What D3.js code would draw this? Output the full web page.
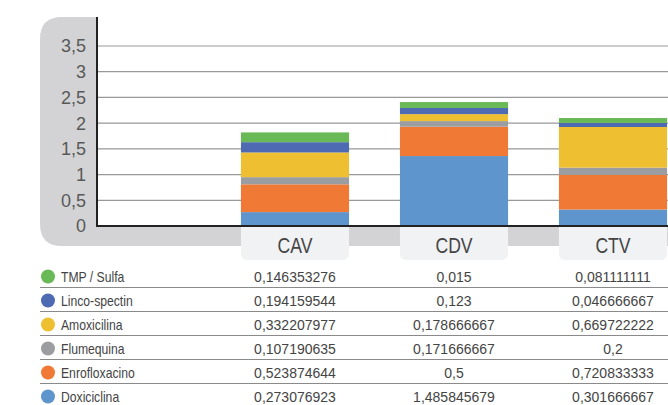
<!DOCTYPE html>
<html>
<head>
<meta charset="utf-8">
<script src="https://cdn.jsdelivr.net/npm/d3@7"></script>
<style>
  body { margin: 0; background: #ffffff; }
  svg { display: block; }
  text { font-family: "Liberation Sans", Arial, sans-serif; }
</style>
</head>
<body>
<svg id="canvas" width="668" height="405"></svg>
<script>
// 1. Data. Categories along the x axis and the series, bottom to top of each stack.

const categories = ["CAV", "CDV", "CTV"];
const seriesNames = ["Doxiciclina", "Enrofloxacino", "Flumequina", "Amoxicilina", "Linco-spectin", "TMP / Sulfa"];
const seriesColors = ["#5f95cd", "#ef7935", "#9c9da0", "#efbf32", "#4d6ab2", "#69b956"];

// heights of the segments as they are drawn in the bars
const doxiciclinaBar = [0.27, 1.36, 0.32];
const enrofloxacinoBar = [0.54, 0.57, 0.675];
const flumequinaBar = [0.14, 0.11, 0.14];
const amoxicilinaBar = [0.48, 0.135, 0.79];
const lincoSpectinBar = [0.20, 0.12, 0.08];
const tmpSulfaBar = [0.19, 0.115, 0.095];

// values printed in the table under the chart
const doxiciclina = [0.273076923, 1.485845679, 0.301666667];
const enrofloxacino = [0.523874644, 0.5, 0.720833333];
const flumequina = [0.107190635, 0.171666667, 0.2];
const amoxicilina = [0.332207977, 0.178666667, 0.669722222];
const lincoSpectin = [0.194159544, 0.123, 0.046666667];
const tmpSulfa = [0.146353276, 0.015, 0.081111111];

const yTicks = [0, 0.5, 1, 1.5, 2, 2.5, 3, 3.5];

const barSeries = [doxiciclinaBar, enrofloxacinoBar, flumequinaBar, amoxicilinaBar, lincoSpectinBar, tmpSulfaBar];
const tableSeries = [doxiciclina, enrofloxacino, flumequina, amoxicilina, lincoSpectin, tmpSulfa];

// 2. Canvas and scales
const svg = d3.select("#canvas");
const width = 668;

const x = d3.scaleBand()
    .domain(categories)
    .range([215.5, 692.5])
    .paddingInner(0.32)
    .paddingOuter(0.16);

const y = d3.scaleLinear().domain([0, 3.5]).range([226, 46]);

const comma = v => String(v).replace(".", ",");

// 3. Gray rounded backdrop behind the y axis and under the baseline
const padLeft = 40, padTop = 17, axisX = 97, padBottom = 246, r = 22;
svg.append("path")
    .attr("fill", "#d3d3d5")
    .attr("d", `M${padLeft},${padTop + r} Q${padLeft},${padTop} ${padLeft + r},${padTop} L${axisX},${padTop} L${axisX},${y(0)}
                L${width},${y(0)} L${width},${padBottom} L${padLeft + r},${padBottom} Q${padLeft},${padBottom} ${padLeft},${padBottom - r} Z`);

// light boxes under every bar holding the category names
const br = 7, boxTop = y(0), boxBottom = 260;
svg.append("g").selectAll("path")
    .data(categories)
    .enter().append("path")
    .attr("fill", "#f1f2f4")
    .attr("d", function(d) {
        const x0 = x(d), x1 = x(d) + x.bandwidth();
        return `M${x0},${boxTop} L${x1},${boxTop} L${x1},${boxBottom - br} Q${x1},${boxBottom} ${x1 - br},${boxBottom}
                L${x0 + br},${boxBottom} Q${x0},${boxBottom} ${x0},${boxBottom - br} Z`;
    });

// 4. Grid lines and y tick labels
svg.append("g").selectAll("line")
    .data(yTicks.filter(d => d > 0))
    .enter().append("line")
    .attr("x1", axisX).attr("x2", width)
    .attr("y1", d => y(d)).attr("y2", d => y(d))
    .attr("stroke", "#999999")
    .attr("stroke-width", 1.2);

svg.append("g").selectAll("text")
    .data(yTicks)
    .enter().append("text")
    .attr("x", 86)
    .attr("y", d => y(d))
    .attr("dy", "0.36em")
    .attr("text-anchor", "end")
    .attr("font-size", 18)
    .attr("fill", "#595959")
    .text(comma);

// 5. Stacked bars
const rows = categories.map((c, i) => {
    const row = { category: c };
    seriesNames.forEach((s, j) => { row[s] = barSeries[j][i]; });
    return row;
});
const stacked = d3.stack().keys(seriesNames)(rows);

svg.append("g").selectAll("g")
    .data(stacked)
    .enter().append("g")
    .attr("fill", (d, i) => seriesColors[i])
    .selectAll("rect")
    .data(d => d)
    .enter().append("rect")
    .attr("x", d => x(d.data.category))
    .attr("width", x.bandwidth())
    .attr("y", d => y(d[1]))
    .attr("height", d => y(d[0]) - y(d[1]));

// axis lines
svg.append("line")
    .attr("x1", axisX).attr("x2", axisX)
    .attr("y1", padTop).attr("y2", y(0) + 1)
    .attr("stroke", "#222222").attr("stroke-width", 2);
svg.append("line")
    .attr("x1", axisX - 1).attr("x2", width)
    .attr("y1", y(0)).attr("y2", y(0))
    .attr("stroke", "#222222").attr("stroke-width", 2);

// category names (the original face is a condensed one, so squeeze it a bit)
svg.append("g").selectAll("text")
    .data(categories)
    .enter().append("text")
    .attr("transform", d => `translate(${x(d) + x.bandwidth() / 2},253) scale(0.8,1)`)
    .attr("text-anchor", "middle")
    .attr("font-size", 22)
    .attr("fill", "#444444")
    .text(d => d);

// 6. Data table with the legend
const legendOrder = d3.range(seriesNames.length).reverse();
const rowY = d3.scaleBand().domain(legendOrder).range([263.5, 407.5]);

const table = svg.append("g");

table.selectAll("line")
    .data(legendOrder.slice(0, -1))
    .enter().append("line")
    .attr("x1", padLeft).attr("x2", width)
    .attr("y1", d => rowY(d) + rowY.bandwidth())
    .attr("y2", d => rowY(d) + rowY.bandwidth())
    .attr("stroke", "#8a8a8a")
    .attr("stroke-width", 1.2);

table.selectAll("circle")
    .data(legendOrder)
    .enter().append("circle")
    .attr("cx", 48)
    .attr("cy", d => rowY(d) + 13)
    .attr("r", 7)
    .attr("fill", d => seriesColors[d]);

table.selectAll("text.name")
    .data(legendOrder)
    .enter().append("text")
    .attr("class", "name")
    .attr("transform", d => `translate(61,${rowY(d) + 18}) scale(0.84,1)`)
    .attr("font-size", 14.5)
    .attr("fill", "#444444")
    .text(d => seriesNames[d]);

legendOrder.forEach(function(s) {
    table.selectAll("text.v" + s)
        .data(tableSeries[s])
        .enter().append("text")
        .attr("class", "v" + s)
        .attr("x", (d, i) => x(categories[i]) + x.bandwidth() / 2)
        .attr("y", rowY(s) + 18)
        .attr("text-anchor", "middle")
        .attr("font-size", 14)
        .attr("fill", "#444444")
        .text(comma);
});
</script>
</body>
</html>
